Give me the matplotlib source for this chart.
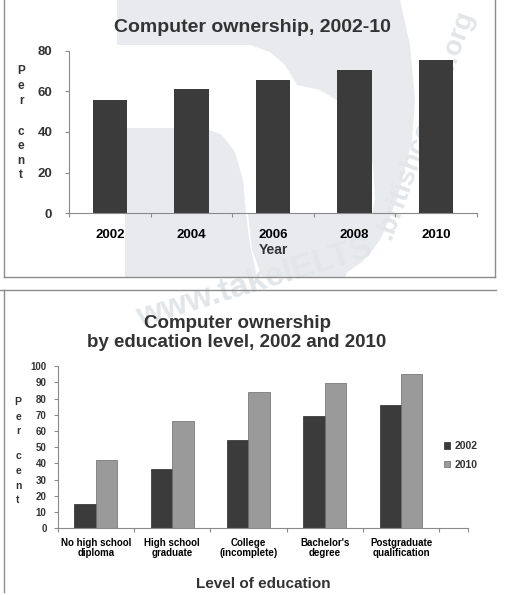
import numpy as np
import matplotlib
matplotlib.use("Agg")
import matplotlib.pyplot as plt
import matplotlib.patches as patches

plt.rcParams['font.family'] = ['Liberation Sans', 'DejaVu Sans']

# top chart data
years = ['2002', '2004', '2006', '2008', '2010']
ownership = [55.7, 61, 65.4, 70.5, 75.4]

# bottom chart data
levels = ['No high school\ndiploma', 'High school\ngraduate', 'College\n(incomplete)',
          "Bachelor's\ndegree", 'Postgraduate\nqualification']
own_2002 = [15.3, 36.8, 54.5, 69.1, 76.3]
own_2010 = [42.3, 66, 84.1, 89.5, 95]

TXT = '#333333'
DARK = '#3b3b3b'
LIGHT = '#9a9a9a'
SPINE = '#8a8a8a'
WM = '#e8eaed'
WM_TXT = '#e3e6e9'
W, H = 527, 595

fig = plt.figure(figsize=(W / 100, H / 100), dpi=100)
fig.patch.set_facecolor('white')


def fp(pts):
    # pixel coords (top-left origin) -> figure fraction
    return [(x / W, 1 - y / H) for x, y in pts]


# faint logo watermark behind the top chart
top_block = [(117, 0), (117, 45), (250, 45), (270, 52), (285, 65), (297, 85), (320, 90),
             (345, 105), (362, 130), (373, 165), (375, 200), (370, 225), (358, 250),
             (345, 277), (340, 277), (373, 250), (397, 200), (412, 140), (415, 100),
             (410, 45), (400, 0)]
bottom_arc = [(248, 213), (392, 213), (380, 240), (362, 262), (340, 277), (262, 277), (252, 250)]
leaf = [(125, 128), (205, 128), (222, 135), (235, 152), (243, 180), (246, 213),
        (250, 245), (257, 277), (125, 277)]
for shape in (top_block, bottom_arc, leaf):
    fig.add_artist(patches.Polygon(fp(shape), closed=True, facecolor=WM, edgecolor='none',
                                   zorder=-10))
fig.text(255 / W, 1 - 283 / H, 'www.takeIELTS', rotation=17, ha='center', va='center',
         rotation_mode='anchor', fontsize=24, fontweight='bold', color=WM_TXT, zorder=-5)
fig.text(425 / W, 1 - 125 / H, '.britishcouncil.org', rotation=70, ha='center', va='center',
         rotation_mode='anchor', fontsize=20, fontweight='bold', color=WM_TXT, zorder=-5)

# panel borders
bc = '#8c8c8c'
fig.add_artist(plt.Line2D([4 / W, 4 / W], [1, 1 - 277 / H], color=bc, lw=1))
fig.add_artist(plt.Line2D([4 / W, 495 / W], [1 - 277 / H] * 2, color=bc, lw=1))
fig.add_artist(plt.Line2D([495 / W, 495 / W], [1, 1 - 277 / H], color=bc, lw=1))
fig.add_artist(plt.Line2D([0, 496 / W], [1 - 290 / H] * 2, color=bc, lw=1))
fig.add_artist(plt.Line2D([4 / W, 4 / W], [1 - 290 / H, 1 - 592 / H], color=bc, lw=1))


def style_axes(ax):
    for s in ['top', 'right']:
        ax.spines[s].set_visible(False)
    for s in ['left', 'bottom']:
        ax.spines[s].set_color(SPINE)
        ax.spines[s].set_linewidth(0.8)
    ax.set_facecolor('none')
    ax.tick_params(colors=SPINE, labelcolor=TXT, length=3, width=0.8)


def stacked_label(x, ys, letters, size):
    for yy, ch in zip(ys, letters):
        fig.text(x / W, 1 - yy / H, ch, ha='center', va='center', fontsize=size,
                 fontweight='bold', color=TXT)


# ---------------- top chart ----------------
ax1 = fig.add_axes([69 / W, 1 - 213.3 / H, 408 / W, 162.6 / H])
style_axes(ax1)
x1 = np.arange(len(years))
ax1.bar(x1, ownership, width=0.42, color=DARK)
ax1.set_xlim(-0.5, len(years) - 0.5)
ax1.set_ylim(0, 80)
ax1.set_yticks([0, 20, 40, 60, 80])
ax1.set_xticks(np.arange(-0.5, len(years), 1))
ax1.set_xticklabels([])
ax1.set_xticks(x1, minor=True)
ax1.set_xticklabels(years, minor=True)
ax1.tick_params(axis='x', which='minor', length=0, pad=11)
ax1.tick_params(axis='y', pad=9)
for lab in ax1.get_yticklabels() + ax1.get_xticklabels(minor=True):
    lab.set_fontsize(9.5)
    lab.set_fontweight('bold')
ax1.set_xlabel('Year', fontsize=10, fontweight='bold', color=TXT, labelpad=2)
fig.text(252 / W, 1 - 27 / H, 'Computer ownership, 2002-10', ha='center', va='center',
         fontsize=14, fontweight='bold', color=TXT)
stacked_label(21, [71, 86, 101, 132, 146, 161, 175], 'Percent', 8.5)

# ---------------- bottom chart ----------------
ax2 = fig.add_axes([57.7 / W, 1 - 528.3 / H, 410.3 / W, 162 / H])
style_axes(ax2)
x2 = np.arange(len(levels))
bw = 0.28
ax2.bar(x2 - bw / 2, own_2002, width=bw, color=DARK, edgecolor='#2a2a2a', lw=0.5, label='2002')
ax2.bar(x2 + bw / 2, own_2010, width=bw, color=LIGHT, edgecolor='#6a6a6a', lw=0.5, label='2010')
xr = -0.5 + 410.3 / 76.3
ax2.set_xlim(-0.5, xr)
ax2.set_ylim(0, 100)
ax2.set_yticks(range(0, 101, 10))
ax2.set_xticks(list(np.arange(-0.5, len(levels), 1)) + [xr])
ax2.set_xticklabels([])
ax2.set_xticks(x2, minor=True)
ax2.set_xticklabels(levels, minor=True)
ax2.tick_params(axis='x', which='minor', length=0, pad=7)
ax2.tick_params(axis='y', pad=5)
for lab in ax2.get_yticklabels():
    lab.set_fontsize(7)
    lab.set_fontweight('bold')
for lab in ax2.get_xticklabels(minor=True):
    lab.set_fontsize(7)
    lab.set_fontweight('bold')
    lab.set_linespacing(0.95)
ax2.set_xlabel('Level of education', fontsize=11, color=TXT, fontweight='semibold', labelpad=14)
fig.text(237 / W, 1 - 333 / H, 'Computer ownership\nby education level, 2002 and 2010',
         ha='center', va='center', fontsize=13.5, fontweight='bold', color=TXT, linespacing=1.2)
stacked_label(18, [402, 417, 431, 456, 471, 486, 500], 'Percent', 7.5)
leg = ax2.legend(loc='center left', bbox_to_anchor=(377 / 410.3, 0.45),
                 frameon=False, fontsize=7.5, handlelength=0.6, handleheight=0.6,
                 handletextpad=0.4, labelspacing=0.8)
for t in leg.get_texts():
    t.set_color(TXT)
    t.set_fontweight('bold')

fig.savefig('out.png', dpi=100)
